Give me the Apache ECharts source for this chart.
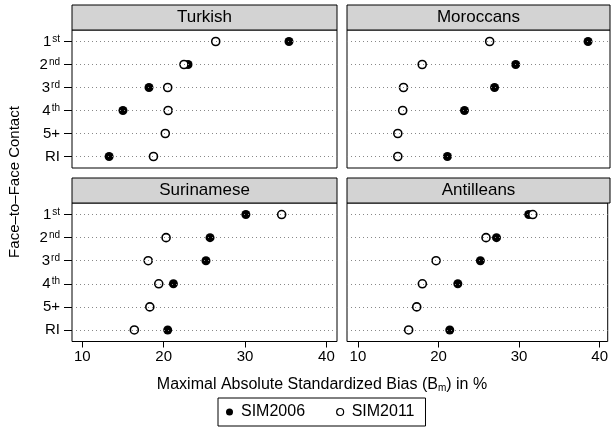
<!DOCTYPE html>
<html><head><meta charset="utf-8">
<script src="https://cdn.jsdelivr.net/npm/echarts@6/dist/echarts.min.js"></script>
<style>html,body{margin:0;padding:0;background:#fff}#c{width:611px;height:429px}</style>
</head><body><div id="c"></div>
<script>
const categories = ['1st','2nd','3rd','4th','5+','RI'];
const xTicks = [10,20,30,40];
const panelNames = ['Turkish','Moroccans','Surinamese','Antilleans'];
const seriesNames = ['SIM2006','SIM2011'];
const turkish2006 = [35.4, 23.0, 18.2, 15.0, null, 13.3];
const turkish2011 = [26.4, 22.5, 20.5, 20.55, 20.2, 18.75];
const moroccans2006 = [38.3, 29.4, 26.8, 23.1, null, 21.0];
const moroccans2011 = [26.2, 17.9, 15.6, 15.5, 14.9, 14.9];
const surinamese2006 = [30.1, 25.7, 25.2, 21.2, null, 20.5];
const surinamese2011 = [34.5, 20.3, 18.1, 19.4, 18.3, 16.4];
const antilleans2006 = [31.2, 27.2, 25.2, 22.4, null, 21.4];
const antilleans2011 = [31.7, 25.9, 19.7, 18.0, 17.3, 16.3];
const panelData = [[turkish2006, turkish2011],[moroccans2006, moroccans2011],[surinamese2006, surinamese2011],[antilleans2006, antilleans2011]];

const FONT = 'Liberation Sans, Arial, sans-serif';
const layout = [
  {left:72, top:30, width:265, height:138, min:8.74, max:41.3, xl:false, yl:true},
  {left:347, top:30, width:263, height:138, min:8.65, max:41.0, xl:false, yl:false},
  {left:72, top:203, width:265, height:138.5, min:8.74, max:41.3, xl:true, yl:true},
  {left:347, top:203, width:263, height:138.5, min:8.65, max:41.0, xl:true, yl:false}
];
const supMap = {'1st':'1{s|st}','2nd':'2{s|nd}','3rd':'3{s|rd}','4th':'4{s|th}','5+':'5+','RI':'RI'};

const grids=[], xAxes=[], yAxes=[], series=[], graphics=[];
layout.forEach((L,i)=>{
  grids.push({left:L.left, top:L.top, width:L.width, height:L.height, show:true, borderColor:'#000', borderWidth:1, backgroundColor:'#fff'});
  xAxes.push({type:'value', gridIndex:i, min:L.min, max:L.max,
    axisLine:{show:false}, splitLine:{show:false},
    axisTick:{show:L.xl, customValues:xTicks, length:6, lineStyle:{color:'#000'}},
    axisLabel:{show:L.xl, customValues:xTicks, color:'#000', fontSize:15, fontFamily:FONT, margin:8}});
  yAxes.push({type:'category', gridIndex:i, data:categories, inverse:true, boundaryGap:true,
    axisLine:{show:false}, splitLine:{show:false},
    axisTick:{show:L.yl, alignWithLabel:true, length:8, lineStyle:{color:'#000'}},
    axisLabel:{show:L.yl, color:'#000', fontSize:15, fontFamily:FONT, margin:12,
      formatter:v=>supMap[v]||v,
      rich:{s:{fontSize:10, fontFamily:FONT, color:'#000', verticalAlign:'top', padding:[0,0,0,1]}}}});
  series.push({type:'line', name:'grid'+i, xAxisIndex:i, yAxisIndex:i, data:[], z:1,
    markLine:{silent:true, symbol:'none', label:{show:false}, animation:false,
      lineStyle:{type:[1,3], color:'#888', width:1},
      data:categories.map(c=>({yAxis:c}))}});
  series.push({type:'scatter', name:seriesNames[0], xAxisIndex:i, yAxisIndex:i, z:3,
    symbol:'circle', symbolSize:9, itemStyle:{color:'#000', opacity:1},
    data:panelData[i][0].map((v,k)=>[v, categories[k]])});
  series.push({type:'scatter', name:seriesNames[1], xAxisIndex:i, yAxisIndex:i, z:4,
    symbol:'circle', symbolSize:8, itemStyle:{color:'#fff', borderColor:'#000', borderWidth:1.6, opacity:1},
    data:panelData[i][1].map((v,k)=>[v, categories[k]])});
  graphics.push({type:'rect', shape:{x:L.left, y:L.top-25, width:L.width, height:25},
    style:{fill:'#d3d3d3', stroke:'#000', lineWidth:1}, z:10});
  graphics.push({type:'text', x:L.left+L.width/2, y:L.top-12.5,
    style:{text:panelNames[i], fill:'#000', font:'17px '+FONT, textAlign:'center', textVerticalAlign:'middle'}, z:11});
});
graphics.push({type:'text', x:15, y:182, rotation:Math.PI/2,
  style:{text:'Face\u2013to\u2013Face Contact', fill:'#000', font:'15px '+FONT, textAlign:'center', textVerticalAlign:'middle'}});
graphics.push({type:'text', x:322, y:385,
  style:{text:'Maximal Absolute Standardized Bias (B{m|m}) in %', fill:'#000', font:'16px '+FONT, textAlign:'center', textVerticalAlign:'middle',
    rich:{m:{fontSize:10, fontFamily:FONT, fill:'#000', verticalAlign:'bottom'}}}});

const chart = echarts.init(document.getElementById('c'), null, {renderer:'canvas'});
chart.setOption({
  animation:false,
  grid:grids, xAxis:xAxes, yAxis:yAxes, series:series, graphic:graphics,
  legend:{data:[{name:'SIM2006', itemStyle:{color:'#000', borderWidth:0, opacity:1}},{name:'SIM2011', itemStyle:{color:'#fff', borderColor:'#000', borderWidth:1.2, opacity:1}}],
    left:218, top:398, orient:'horizontal',
    borderColor:'#000', borderWidth:1, borderRadius:0, padding:[6,11,6,8], itemGap:31,
    itemWidth:7, itemHeight:7, icon:'circle',
    textStyle:{color:'#000', fontSize:16, fontFamily:FONT, padding:[0,0,0,3]}}
});
</script></body></html>
